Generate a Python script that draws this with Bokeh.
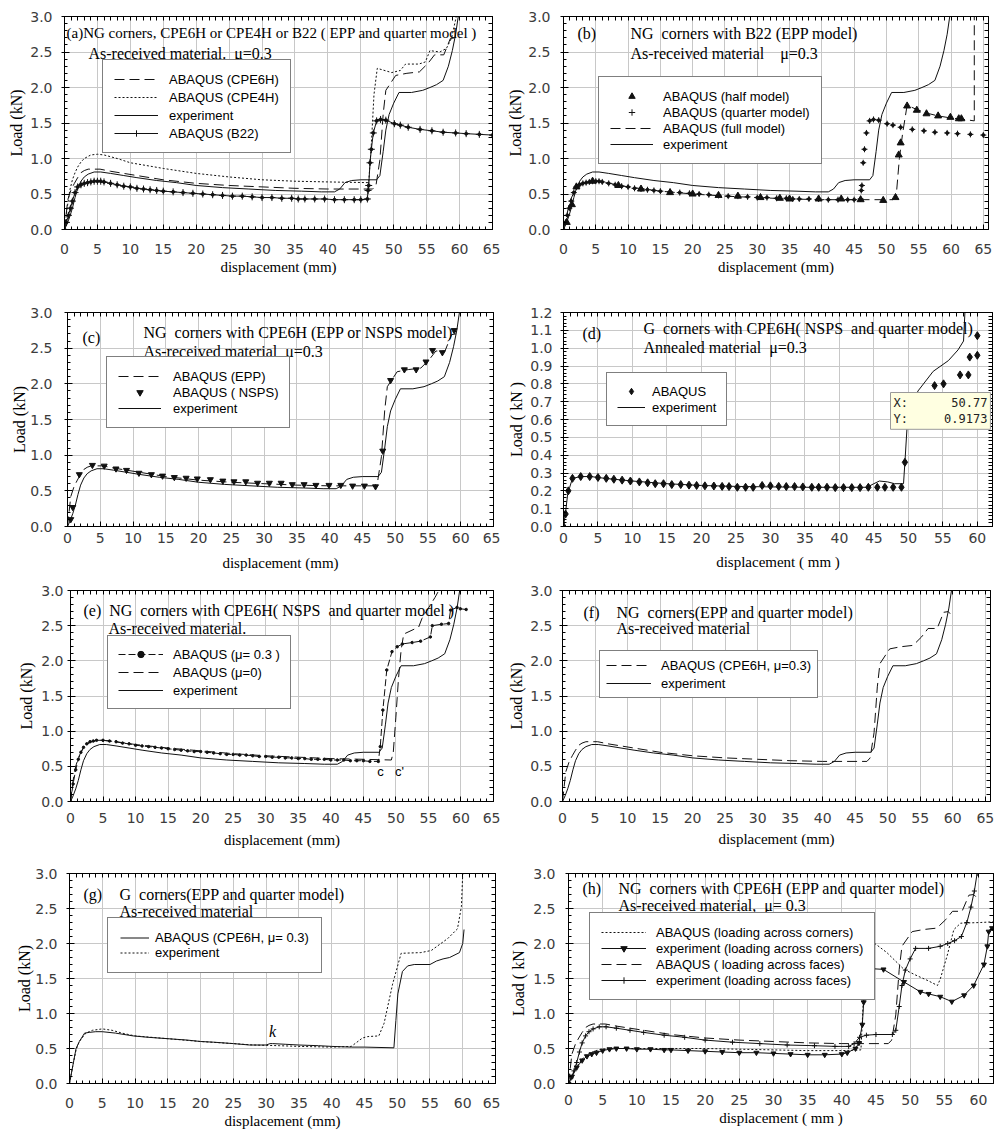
from bokeh.plotting import figure
from bokeh.models import (Range1d, LinearAxis, FixedTicker, NumeralTickFormatter,
                          Legend, LegendItem, Label, Title)
from bokeh.layouts import column, row
from bokeh.embed import file_html
from bokeh.resources import INLINE

# ---------------------------------------------------------------- data
# experiment, NG corners, as-received material (panels a, b, c, e, f, h-faces)
EXP_X = [0, 0.4, 0.8, 1.2, 1.6, 2.0, 2.5, 3.0, 3.6, 4.5, 5.5, 7, 9, 11, 14, 17, 20, 24, 28, 32,
         36, 39, 41, 41.8, 42.6, 43.6, 45, 47.4, 47.9, 48.4, 48.8, 49.3, 50.0, 50.8, 52.7, 54.4,
         55.5, 56.5, 57.5, 58.3, 58.9, 59.4, 59.8]
EXP_Y = [0, 0.08, 0.18, 0.3, 0.45, 0.58, 0.68, 0.74, 0.78, 0.81, 0.81, 0.79, 0.76, 0.73, 0.69,
         0.66, 0.62, 0.59, 0.57, 0.55, 0.54, 0.53, 0.53, 0.57, 0.66, 0.69, 0.70, 0.70, 0.76, 1.1,
         1.4, 1.62, 1.78, 1.93, 1.93, 1.96, 2.0, 2.04, 2.1, 2.3, 2.52, 2.75, 3.0]

# ABAQUS CPE6H, EPP (a, c, f, h-faces)
C6_X = [0, 0.5, 1.0, 1.5, 2.0, 2.5, 3.0, 3.6, 5.4, 7, 9, 11, 15, 20, 25, 30, 35, 40, 46.8, 47.3,
        47.9, 48.4, 48.8, 50.3, 52.0, 53.9, 55.2, 56.2, 57.6, 58.6, 59.3, 59.6]
C6_Y = [0, 0.42, 0.56, 0.65, 0.73, 0.8, 0.83, 0.85, 0.85, 0.82, 0.79, 0.76, 0.70, 0.65, 0.62,
        0.60, 0.58, 0.57, 0.57, 0.62, 0.98, 1.63, 1.96, 2.17, 2.2, 2.22, 2.34, 2.46, 2.46, 2.69,
        2.7, 2.67]

# ABAQUS CPE4H (a)
C4_X = [0, 0.4, 0.8, 1.2, 1.6, 2.0, 2.5, 3.0, 4.0, 5.0, 6.0, 8, 10, 15, 20, 25, 30, 35, 40, 46.2,
        46.6, 47.0, 47.5, 49.7, 51.0, 51.8, 53.8, 54.8, 55.5, 57.0, 58.0, 58.8, 59.5]
C4_Y = [0, 0.3, 0.55, 0.7, 0.8, 0.88, 0.95, 1.0, 1.05, 1.06, 1.05, 1.0, 0.94, 0.86, 0.79, 0.74,
        0.7, 0.68, 0.67, 0.66, 1.2, 1.9, 2.27, 2.21, 2.24, 2.33, 2.33, 2.36, 2.52, 2.5, 2.55, 2.7, 3.0]

# ABAQUS B22, quarter model (a, b)
B22_X = [0, 0.3, 0.6, 0.9, 1.2, 1.6, 2.0, 2.5, 3.0, 3.5, 4.0, 4.5, 5.0, 5.5, 6.0, 7, 8, 9, 10, 11,
         12, 13, 14, 15, 16.5, 18, 19.5, 21, 22.5, 24, 25.5, 27, 28.5, 30, 31.5, 33, 34.5, 35.5,
         36.5, 38, 39.5, 41, 42.5, 44, 45, 46.0, 46.1, 46.2, 46.4, 46.6, 46.9, 47.4, 48.0, 48.8,
         50.1, 51.0, 52.2, 54.0, 55.8, 57.5, 59.4, 61.0, 63.0, 65.0]
B22_Y = [0, 0.1, 0.2, 0.3, 0.4, 0.52, 0.6, 0.63, 0.65, 0.66, 0.67, 0.68, 0.68, 0.68, 0.67, 0.65,
         0.63, 0.61, 0.6, 0.58, 0.57, 0.56, 0.55, 0.54, 0.53, 0.52, 0.51, 0.5, 0.49, 0.48, 0.47,
         0.47, 0.46, 0.45, 0.45, 0.44, 0.44, 0.43, 0.43, 0.43, 0.43, 0.42, 0.42, 0.42, 0.42, 0.43,
         0.55, 0.62, 0.94, 1.13, 1.36, 1.53, 1.55, 1.54, 1.49, 1.47, 1.44, 1.41, 1.39, 1.37, 1.36,
         1.35, 1.34, 1.33]

# ABAQUS half model (b)
HALF_X = [0.5, 1.3, 2.0, 4.5, 8.5, 12, 16.5, 20, 24, 27, 30.5, 33.5, 35, 39.5, 43, 46, 49.5,
          51.4, 51.9, 52.2, 53.2, 54.7, 56.2, 58, 59.9, 61.2, 61.6]
HALF_Y = [0.1, 0.35, 0.6, 0.68, 0.62, 0.57, 0.52, 0.5, 0.48, 0.47, 0.45, 0.44, 0.43, 0.43, 0.43,
          0.42, 0.41, 0.45, 1.05, 1.22, 1.74, 1.68, 1.63, 1.6, 1.58, 1.56, 1.56]

# ABAQUS full model (b)
FULL_X = [0, 0.5, 1.0, 2.0, 3.0, 4.5, 6, 10, 15, 20, 25, 30, 35, 40, 45, 51.0, 51.5, 52.0, 52.5,
          53.2, 54.7, 56.2, 58, 60, 62, 63.6, 63.6]
FULL_Y = [0, 0.2, 0.4, 0.6, 0.65, 0.68, 0.67, 0.6, 0.54, 0.5, 0.47, 0.45, 0.43, 0.42, 0.42, 0.42,
          0.46, 1.0, 1.35, 1.75, 1.69, 1.64, 1.6, 1.57, 1.55, 1.53, 3.0]

# ABAQUS NSPS (c)
NSPS_X = [0.5, 0.8, 1.8, 3.8, 5.6, 7.4, 9.0, 10.9, 12.8, 14.5, 16.3, 18.1, 19.8, 21.8, 23.7, 25.4,
          27.2, 29.0, 30.8, 32.6, 34.3, 36.1, 37.9, 39.9, 41.7, 43.5, 45.3, 47.0, 48.1, 49.3, 51.4,
          53.2, 54.7, 55.7, 57.2, 59.0]
NSPS_Y = [0.1, 0.27, 0.73, 0.86, 0.85, 0.81, 0.79, 0.75, 0.73, 0.71, 0.69, 0.68, 0.67, 0.66, 0.64,
          0.63, 0.63, 0.61, 0.61, 0.61, 0.59, 0.59, 0.58, 0.58, 0.58, 0.57, 0.57, 0.56, 1.06, 2.05,
          2.2, 2.2, 2.31, 2.47, 2.44, 2.75]

# G corners, annealed (d)
GA_EXP_X = [0, 0.3, 0.6, 0.9, 1.3, 2.5, 4, 6, 10, 15, 20, 25, 30, 35, 40, 44, 45, 45.8, 47, 48,
            49.3, 49.5, 49.8, 50.5, 51.4, 53.6, 55.8, 57.2, 58.0, 58.2]
GA_EXP_Y = [0, 0.08, 0.18, 0.22, 0.27, 0.28, 0.28, 0.27, 0.255, 0.24, 0.23, 0.225, 0.222, 0.22,
            0.22, 0.22, 0.24, 0.255, 0.25, 0.24, 0.24, 0.36, 0.55, 0.68, 0.76, 0.87, 0.93, 0.99,
            1.04, 1.2]
GA_ABQ_X = [0, 0.3, 0.7, 1.3, 2.5, 3.8, 5.0, 6.2, 7.3, 8.5, 9.7, 11.0, 12.2, 13.3, 14.5, 15.7,
            17.0, 18.2, 19.3, 20.5, 21.8, 23.0, 24.0, 25.2, 26.4, 27.5, 28.8, 30.0, 31.2, 32.3,
            33.5, 34.7, 36.0, 37.0, 38.2, 39.4, 40.6, 41.8, 43.0, 44.2, 45.5, 46.6, 47.8, 49.0,
            49.5, 51.2, 52.5, 53.8, 55.1, 57.5, 58.7, 58.9, 60.0, 60.0]
GA_ABQ_Y = [0, 0.07, 0.2, 0.27, 0.28, 0.28, 0.275, 0.27, 0.265, 0.26, 0.255, 0.25, 0.245, 0.24,
            0.24, 0.235, 0.235, 0.232, 0.23, 0.228, 0.227, 0.225, 0.224, 0.22, 0.22, 0.22, 0.23,
            0.228, 0.225, 0.224, 0.224, 0.222, 0.22, 0.22, 0.22, 0.218, 0.218, 0.218, 0.218, 0.22,
            0.22, 0.22, 0.22, 0.22, 0.36, 0.62, 0.72, 0.79, 0.80, 0.85, 0.85, 0.95, 0.96, 1.07]

# friction comparison (e)
MU03_X = [0, 0.4, 0.8, 1.2, 1.6, 2.0, 2.5, 3.0, 3.5,
          4, 5, 6, 7, 8, 9, 10, 11, 12, 13, 14, 15, 16, 17, 18, 19, 20, 21, 22, 23, 24, 25, 26,
          27, 28, 29, 30, 31, 32, 33, 34, 35, 36, 37, 38, 39, 40, 41, 42, 43, 44, 45, 46,
          47.3, 47.6, 48.0, 48.6, 49.4, 50.2, 51.0, 52.5, 53.8, 55.3, 55.6, 57.0, 58.1, 58.4,
          59.4, 59.9, 60.8]
MU03_Y = [0, 0.25, 0.45, 0.6, 0.7, 0.77, 0.82, 0.85, 0.86,
          0.87, 0.87, 0.86, 0.85, 0.83, 0.82, 0.8, 0.79, 0.78, 0.77,
          0.76, 0.75, 0.74, 0.73, 0.72, 0.71, 0.71, 0.7, 0.69, 0.68,
          0.67, 0.67, 0.66, 0.66, 0.65, 0.64, 0.64, 0.63, 0.63, 0.62,
          0.62, 0.61, 0.61, 0.6, 0.6, 0.6, 0.59, 0.59, 0.59, 0.58,
          0.58, 0.58, 0.57,
          0.57, 0.78, 1.3, 1.87, 2.13, 2.2, 2.24, 2.26, 2.28, 2.34, 2.5, 2.52, 2.53, 2.72,
          2.76, 2.74, 2.73]
MU0_X = [0, 0.4, 0.8, 1.2, 1.6, 2.0, 2.5, 3.0, 4.0, 5.0, 7, 10, 15, 20, 25, 30, 35, 40, 45, 49.3,
         49.6, 50.0, 50.4, 50.8, 51.2, 53.5, 54.0, 55.0, 56.0, 56.6]
MU0_Y = [0, 0.3, 0.5, 0.62, 0.7, 0.76, 0.81, 0.84, 0.87, 0.87, 0.85, 0.81, 0.76, 0.72, 0.68,
         0.65, 0.63, 0.61, 0.6, 0.59, 0.7, 1.2, 1.75, 2.15, 2.38, 2.48, 2.6, 2.75, 2.9, 3.0]

# G corners, as-received (g)
G_ABQ_X = [0, 0.3, 0.6, 1.0, 1.5, 2.3, 3.0, 4.0, 5.0, 7, 9.7, 12, 15, 18, 20, 22, 25, 27.5, 30,
           30.6, 31, 33, 35, 38, 40, 43, 45, 49.5, 49.8, 50.1, 50.8, 51.6, 52.6, 55.0, 56.0, 57.0,
           58.0, 59.5, 60.0, 60.2]
G_ABQ_Y = [0, 0.15, 0.3, 0.5, 0.6, 0.72, 0.73, 0.74, 0.74, 0.72, 0.68, 0.66, 0.64, 0.62, 0.6,
           0.59, 0.57, 0.55, 0.55, 0.57, 0.57, 0.56, 0.55, 0.54, 0.53, 0.52, 0.52, 0.51, 0.9, 1.28,
           1.6, 1.68, 1.7, 1.7, 1.75, 1.78, 1.8, 1.87, 2.0, 2.2]
G_EXP_X = [0, 0.3, 0.6, 1.0, 1.5, 2.5, 3.5, 5.0, 6.5, 8, 10, 15, 20, 25, 28, 32, 35, 40, 43, 44.7,
           45.5, 47.2, 48.0, 49.3, 50.6, 53.6, 55.2, 57.7, 59.2, 59.8, 60.0]
G_EXP_Y = [0, 0.15, 0.3, 0.48, 0.6, 0.72, 0.76, 0.78, 0.76, 0.72, 0.68, 0.64, 0.6, 0.57, 0.55,
           0.54, 0.53, 0.52, 0.53, 0.65, 0.67, 0.68, 0.86, 1.42, 1.86, 1.87, 1.9, 2.07, 2.21, 2.53,
           3.0]

# loading across corners (h)
HAC_X = [0, 0.5, 1.0, 1.5, 2.0, 3.0, 4.0, 5.0, 7, 10, 15, 20, 25, 30, 35, 40, 42.8, 43.3, 43.6,
         44.7, 46.6, 49.1, 51.0, 52.6, 54.0, 54.4, 55.4, 56.4, 57.4, 60.3, 62.2]
HAC_Y = [0, 0.1, 0.2, 0.28, 0.35, 0.43, 0.47, 0.49, 0.5, 0.5, 0.5, 0.5, 0.49, 0.48, 0.47, 0.47,
         0.48, 1.5, 2.12, 2.01, 1.87, 1.63, 1.54, 1.47, 1.40, 1.49, 1.82, 2.2, 2.29, 2.30, 2.31]
HEC_X = [0, 0.5, 1.2, 2.0, 2.7, 3.4, 4.1, 5.0, 6.0, 7.0, 8.5, 10, 12, 14, 15, 17.5, 20, 22.5, 25,
         27.5, 30, 32.5, 35, 37.5, 40, 40.8, 42.0, 42.5, 43.0, 43.2, 43.5, 44.4, 46.1, 49.1, 51.5,
         52.7, 54.4, 56.1, 57.9, 59.3, 60.8, 61.3, 61.5, 62.0]
HEC_Y = [0, 0.1, 0.23, 0.33, 0.39, 0.42, 0.44, 0.47, 0.49, 0.5, 0.5, 0.49, 0.49, 0.48, 0.48,
         0.47, 0.46, 0.45, 0.44, 0.44, 0.43, 0.42, 0.41, 0.41, 0.42, 0.44, 0.5, 0.58, 0.84, 1.16,
         1.63, 1.64, 1.63, 1.45, 1.31, 1.28, 1.24, 1.17, 1.26, 1.40, 1.70, 1.96, 2.17, 2.22]

X_TICK_STEP = 5

# ---------------------------------------------------------------- style / layout
SANS = "Liberation Sans"
SERIF = "Liberation Serif"
TICKFONT = "DejaVu Sans"
INK = "#111111"
LEFT_COL = (0, 500)
RIGHT_COL = (500, 1008)
ROWS = [(0, 282), (282, 580), (580, 855), (855, 1130)]
NBSP = "\u00a0"


def tick_lists(step, top, nminor):
    n = int(round(top / step))
    major = [round(i * step, 4) for i in range(n + 1)]
    minor = [round(i * step / nminor, 4) for i in range(n * nminor + 1)]
    return major, minor


def make_panel(col, rowi, frame, xr, yr, ymaj, xtop, ytop, bst, lst,
               xlab, xls, ylab, yls):
    x0, x1 = col
    y0, y1 = ROWS[rowi]
    L, T, R, B = frame
    p = figure(width=x1 - x0, height=y1 - y0, x_range=Range1d(*xr), y_range=Range1d(*yr),
               output_backend="svg", toolbar_location=None,
               min_border_left=L - x0, min_border_right=x1 - R,
               min_border_top=T - y0, min_border_bottom=y1 - B,
               background_fill_color="white", border_fill_color="white")
    p.outline_line_color = "black"
    xmaj_t, xmin_t = tick_lists(X_TICK_STEP, xtop, 5)
    ymaj_t, ymin_t = tick_lists(ymaj, ytop, 5)
    xt = FixedTicker(ticks=xmaj_t, minor_ticks=xmin_t)
    yt = FixedTicker(ticks=ymaj_t, minor_ticks=ymin_t)
    xa, ya = p.xaxis[0], p.yaxis[0]
    xa.ticker, ya.ticker = xt, yt
    xa.formatter = NumeralTickFormatter(format="0")
    ya.formatter = NumeralTickFormatter(format="0.0")
    for a in (xa, ya):
        a.axis_line_color = "black"
        a.major_tick_line_color = "black"
        a.minor_tick_line_color = "black"
        a.major_label_text_font = TICKFONT
        a.major_label_text_font_size = "14px"
        a.major_label_text_color = "#3c3c3c"
        a.major_tick_in = 5
        a.minor_tick_in = 3
        a.minor_tick_out = 0
    xa.major_tick_out = 0
    ya.major_tick_out = 3
    xa.major_label_standoff = bst
    ya.major_label_standoff = lst
    for loc, mins in (("right", ymin_t), ("above", xmin_t)):
        ax = LinearAxis(ticker=FixedTicker(ticks=[], minor_ticks=mins),
                        major_tick_in=0, major_tick_out=0, minor_tick_in=4, minor_tick_out=0,
                        axis_line_color="black", minor_tick_line_color="black")
        p.add_layout(ax, loc)
    p.xgrid.ticker = xt
    p.ygrid.ticker = yt
    for g in (p.xgrid, p.ygrid):
        g.grid_line_color = "#c8c8c8"
        g.grid_line_width = 1
    # axis titles, placed in the side panels
    p.add_layout(Title(text=xlab, align="center", text_font=SERIF, text_font_size="15px",
                       text_font_style="normal", text_color="black", standoff=xls,
                       offset=0), "below")
    p.add_layout(Title(text=ylab, align="center", text_font=SERIF, text_font_size="16px",
                       text_font_style="normal", text_color="black", standoff=yls,
                       offset=0), "left")
    geo = dict(frame=frame, xr=xr, yr=yr)
    return p, geo


def to_data(geo, px, py):
    L, T, R, B = geo["frame"]
    xr, yr = geo["xr"], geo["yr"]
    x = xr[0] + (px - L) / (R - L) * (xr[1] - xr[0])
    y = yr[0] + (B - py) / (B - T) * (yr[1] - yr[0])
    return x, y


def note(p, geo, px, py, text, size="16px", font=SERIF, align="left", style="normal"):
    x, y = to_data(geo, px, py)
    p.add_layout(Label(x=x, y=y, text=text, text_font=font, text_font_size=size,
                       text_align=align, text_baseline="middle", text_font_style=style,
                       text_color="black"))


def legend(p, geo, items, left_px, top_px, item_h, spacing, pad, glyph_w, standoff=10):
    L, T, R, B = geo["frame"]
    n = len(items)
    h = 2 * pad + n * item_h + (n - 1) * spacing
    loc = (left_px - L, B - (top_px + h))
    lg = Legend(items=[LegendItem(label=t, renderers=r) for t, r in items], location=loc,
                label_text_font=SANS, label_text_font_size="13px", label_text_color="black",
                glyph_width=glyph_w, glyph_height=item_h, label_height=item_h,
                spacing=spacing, padding=pad, margin=0, label_standoff=standoff,
                border_line_color="black", border_line_width=1,
                background_fill_color="white", background_fill_alpha=1.0)
    p.add_layout(lg)


def ln(p, x, y, dash="solid", w=1):
    return p.line(x, y, line_color=INK, line_width=w, line_dash=dash)


def mk(p, x, y, marker, size, fill=True):
    return p.scatter(x, y, marker=marker, size=size, line_color=INK,
                     fill_color=INK if fill else None, line_width=1)


DASH = "10 5"
DOT = "2 2"
DISP = "displacement (mm)"
DISP2 = "displacement ( mm )"
LOAD = "Load (kN)"
LOAD2 = "Load ( kN )"

# ---------------------------------------------------------------- (a)
fa = (64, 16, 492, 231)
pa, ga = make_panel(LEFT_COL, 0, fa, (0, 65), (0, 3), 0.5, 65, 3, 14, 9, DISP, 0, LOAD, 6)
ra1 = ln(pa, C6_X, C6_Y, DASH)
ra2 = ln(pa, C4_X, C4_Y, DOT)
ra3 = ln(pa, EXP_X, EXP_Y)
ra4 = ln(pa, B22_X, B22_Y)
ra5 = mk(pa, B22_X, B22_Y, "cross", 7)
mk(pa, B22_X, B22_Y, "circle", 3)
note(pa, ga, 66, 33, "(a)NG corners, CPE6H or CPE4H or B22 ( EPP and quarter model )", size="15px")
note(pa, ga, 88, 53, "As-received material." + NBSP * 2 + "\u03bc=0.3")
legend(pa, ga, [("ABAQUS (CPE6H)", [ra1]), ("ABAQUS (CPE4H)", [ra2]),
                ("experiment", [ra3]), ("ABAQUS (B22)", [ra4, ra5])],
       102, 63, 16, 2, 11, 44, 11)

# ---------------------------------------------------------------- (b)
fb = (563, 16, 988, 229)
pb, gb = make_panel(RIGHT_COL, 0, fb, (0, 65.8), (0, 3), 0.5, 65, 3, 14, 10, DISP, 0, LOAD, 4)
rb3 = ln(pb, FULL_X, FULL_Y, DASH)
rb4 = ln(pb, EXP_X, EXP_Y)
rb1 = mk(pb, HALF_X, HALF_Y, "triangle", 7)
rb2 = mk(pb, B22_X, B22_Y, "cross", 6)
mk(pb, B22_X, B22_Y, "circle", 3)
note(pb, gb, 577, 33, "(b)")
note(pb, gb, 630, 33, "NG" + NBSP * 2 + "corners with B22 (EPP model)")
note(pb, gb, 630, 53, "As-received material" + NBSP * 4 + "\u03bc=0.3")
legend(pb, gb, [("ABAQUS (half model)", [rb1]), ("ABAQUS (quarter model)", [rb2]),
                ("ABAQUS (full model)", [rb3]), ("experiment", [rb4])],
       598, 78, 16, 0, 11, 43, 10)

# ---------------------------------------------------------------- (c)
fc = (67, 310, 493, 526)
pc, gc = make_panel(LEFT_COL, 1, fc, (0, 65), (0, 3), 0.5, 65, 3, 6, 12, DISP, 15, LOAD, 0)
rc1 = ln(pc, C6_X, C6_Y, DASH)
rc3 = ln(pc, EXP_X, EXP_Y)
rc2 = mk(pc, NSPS_X, NSPS_Y, "inverted_triangle", 6)
note(pc, gc, 82, 335, "(c)")
note(pc, gc, 143, 330, "NG" + NBSP * 2 + "corners with CPE6H (EPP or NSPS model)")
note(pc, gc, 143, 349, "As-received material" + NBSP * 2 + "\u03bc=0.3")
legend(pc, gc, [("ABAQUS (EPP)", [rc1]), ("ABAQUS ( NSPS)", [rc2]), ("experiment", [rc3])],
       106, 358, 16, 0, 11, 43, 12)

# ---------------------------------------------------------------- (d)
fd = (563, 312, 992, 526)
pd_, gd = make_panel(RIGHT_COL, 1, fd, (0, 62.2), (0, 1.2), 0.1, 60, 1.2, 6, 8,
                     DISP2, 12, LOAD2, 6)
rd2 = ln(pd_, GA_EXP_X, GA_EXP_Y)
rd1 = mk(pd_, GA_ABQ_X, GA_ABQ_Y, "diamond", 8)
note(pd_, gd, 582, 333, "(d)")
note(pd_, gd, 643, 328, "G" + NBSP * 2 + "corners with CPE6H( NSPS" + NBSP * 2 + "and quarter model)")
note(pd_, gd, 643, 347, "Annealed material" + NBSP * 2 + "\u03bc=0.3")
legend(pd_, gd, [("ABAQUS", [rd1]), ("experiment", [rd2])], 606, 374, 16, 0, 10, 28, 7)
# data-cursor box (kept inside the frame)
tx, ty = to_data(gd, 890, 392)
pd_.add_layout(Label(x=tx, y=ty, text="X:" + NBSP * 6 + "50.77\nY:" + NBSP * 5 + "0.9173",
                     text_font="DejaVu Sans Mono", text_font_size="12px", text_color="#222222",
                     text_align="left", text_baseline="top",
                     background_fill_color="#ffffe1", background_fill_alpha=1.0,
                     border_line_color="#9a9a9a", padding=3))

# ---------------------------------------------------------------- (e)
fe = (70, 590, 493, 802)
pe, ge = make_panel(LEFT_COL, 2, fe, (0, 65), (0, 3), 0.5, 65, 3, 11, 4, DISP, 8, LOAD, 7)
re1 = ln(pe, MU03_X, MU03_Y, "7 3")
re1m = mk(pe, MU03_X, MU03_Y, "circle", 2.5)
re2 = ln(pe, MU0_X, MU0_Y, DASH)
re3 = ln(pe, EXP_X, EXP_Y)
note(pe, ge, 83, 610, "(e)" + NBSP * 2 + "NG" + NBSP * 2 + "corners with CPE6H( NSPS" + NBSP * 2 + "and quarter model )")
note(pe, ge, 108, 628, "As-received material.")
note(pe, ge, 380, 772, "c", size="13px", font=SANS, align="center")
note(pe, ge, 399, 772, "c'", size="13px", font=SANS, align="center")
legend(pe, ge, [("ABAQUS (\u03bc= 0.3 )", [re1, re1m]), ("ABAQUS (\u03bc=0)", [re2]),
                ("experiment", [re3])], 107, 638, 16, 2, 10, 45, 10)

# ---------------------------------------------------------------- (f)
ff = (562, 590, 990, 801)
pf, gf = make_panel(RIGHT_COL, 2, ff, (0, 65.8), (0, 3), 0.5, 65, 3, 11, 7, DISP, 6, LOAD, 6)
rf1 = ln(pf, C6_X, C6_Y, DASH)
rf2 = ln(pf, EXP_X, EXP_Y)
note(pf, gf, 583, 612, "(f)")
note(pf, gf, 616, 612, "NG" + NBSP * 2 + "corners(EPP and quarter model)")
note(pf, gf, 616, 628, "As-received material")
legend(pf, gf, [("ABAQUS (CPE6H, \u03bc=0.3)", [rf1]), ("experiment", [rf2])],
       599, 652, 16, 2, 6, 45, 10)

# ---------------------------------------------------------------- (g)
fg = (69, 868, 495, 1083)
pg, gg = make_panel(LEFT_COL, 3, fg, (0, 65), (0, 3), 0.5, 65, 3, 14, 9, DISP, 0, LOAD, 0)
rg1 = ln(pg, G_ABQ_X, G_ABQ_Y)
rg2 = ln(pg, G_EXP_X, G_EXP_Y, DOT)
note(pg, gg, 83, 890, "(g)")
note(pg, gg, 119, 890, "G" + NBSP * 2 + "corners(EPP and quarter model)")
note(pg, gg, 119, 907, "As-received material")
note(pg, gg, 272, 1030, "k", style="italic", align="center")
legend(pg, gg, [("ABAQUS (CPE6H, \u03bc= 0.3)", [rg1]), ("experiment", [rg2])],
       107, 919, 15, 0, 12, 29, 6)

# ---------------------------------------------------------------- (h)
fh = (568, 873, 993, 1086)
ph, gh = make_panel(RIGHT_COL, 3, fh, (0, 62.2), (0, 3), 0.5, 60, 3, 11, 10,
                    DISP2, 0, LOAD2, 7)
rh1 = ln(ph, HAC_X, HAC_Y, DOT)
rh2 = ln(ph, HEC_X, HEC_Y)
rh2m = mk(ph, HEC_X, HEC_Y, "inverted_triangle", 5)
rh3 = ln(ph, C6_X, C6_Y, DASH)
rh4 = ln(ph, EXP_X, EXP_Y)
rh4m = mk(ph, EXP_X, EXP_Y, "cross", 5)
note(ph, gh, 582, 888, "(h)")
note(ph, gh, 618, 888, "NG" + NBSP * 2 + "corners with CPE6H (EPP and quarter model)")
note(ph, gh, 618, 905, "As-received material," + NBSP * 2 + "\u03bc= 0.3")
legend(ph, gh, [("ABAQUS (loading across corners)", [rh1]),
                ("experiment (loading across corners)", [rh2, rh2m]),
                ("ABAQUS ( loading across faces)", [rh3]),
                ("experiment (loading across faces)", [rh4, rh4m])],
       589, 917, 16, 0, 11, 45, 10)

layout = column(row(pa, pb), row(pc, pd_), row(pe, pf), row(pg, ph))
open("out.html", "w").write(file_html(layout, INLINE))
